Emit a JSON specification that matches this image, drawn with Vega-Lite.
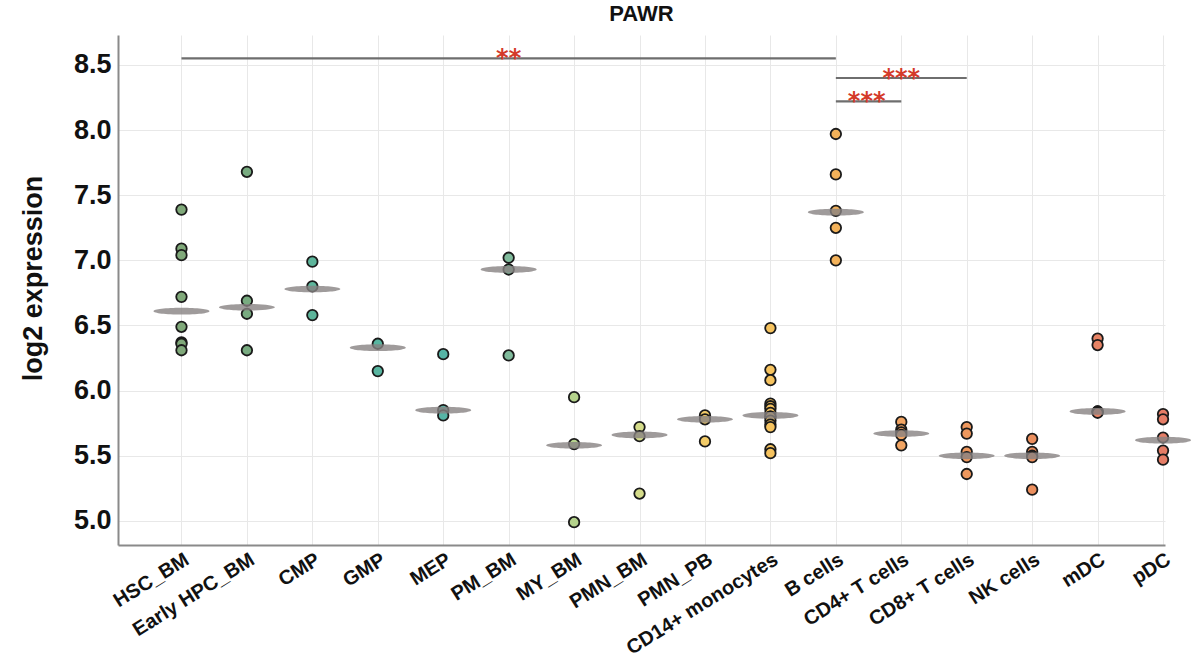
{
  "$schema": "https://vega.github.io/schema/vega-lite/v6.json",
  "width": 1047,
  "height": 510,
  "autosize": {"type": "none"},
  "padding": {"left": 118, "top": 35, "right": 35, "bottom": 118},
  "background": "white",
  "title": {"text": "PAWR", "fontSize": 22, "font": "Liberation Sans", "fontWeight": "bold", "color": "#111111", "offset": 9},
  "config": {
    "view": {"stroke": null},
    "axis": {
      "domainColor": "#8a8a8a",
      "domainWidth": 2,
      "gridColor": "#e8e8e8",
      "gridWidth": 1,
      "ticks": false,
      "labelFont": "Liberation Sans",
      "labelFontWeight": "bold",
      "labelColor": "#111111",
      "titleFont": "Liberation Sans",
      "titleFontWeight": "bold",
      "titleColor": "#111111"
    }
  },
  "datasets": {
    "expr": [
      {"cell": "HSC_BM", "value": 7.39}, {"cell": "HSC_BM", "value": 7.09}, {"cell": "HSC_BM", "value": 7.04}, {"cell": "HSC_BM", "value": 6.72},
      {"cell": "HSC_BM", "value": 6.49}, {"cell": "HSC_BM", "value": 6.37}, {"cell": "HSC_BM", "value": 6.36}, {"cell": "HSC_BM", "value": 6.31},
      {"cell": "Early HPC_BM", "value": 7.68}, {"cell": "Early HPC_BM", "value": 6.69}, {"cell": "Early HPC_BM", "value": 6.59}, {"cell": "Early HPC_BM", "value": 6.31},
      {"cell": "CMP", "value": 6.99}, {"cell": "CMP", "value": 6.80}, {"cell": "CMP", "value": 6.58},
      {"cell": "GMP", "value": 6.36}, {"cell": "GMP", "value": 6.15},
      {"cell": "MEP", "value": 6.28}, {"cell": "MEP", "value": 5.85}, {"cell": "MEP", "value": 5.81},
      {"cell": "PM_BM", "value": 7.02}, {"cell": "PM_BM", "value": 6.93}, {"cell": "PM_BM", "value": 6.27},
      {"cell": "MY_BM", "value": 5.95}, {"cell": "MY_BM", "value": 5.59}, {"cell": "MY_BM", "value": 4.99},
      {"cell": "PMN_BM", "value": 5.72}, {"cell": "PMN_BM", "value": 5.65}, {"cell": "PMN_BM", "value": 5.21},
      {"cell": "PMN_PB", "value": 5.81}, {"cell": "PMN_PB", "value": 5.78}, {"cell": "PMN_PB", "value": 5.61},
      {"cell": "CD14+ monocytes", "value": 6.48}, {"cell": "CD14+ monocytes", "value": 6.16}, {"cell": "CD14+ monocytes", "value": 6.08},
      {"cell": "CD14+ monocytes", "value": 5.90}, {"cell": "CD14+ monocytes", "value": 5.88}, {"cell": "CD14+ monocytes", "value": 5.86},
      {"cell": "CD14+ monocytes", "value": 5.83}, {"cell": "CD14+ monocytes", "value": 5.80}, {"cell": "CD14+ monocytes", "value": 5.80},
      {"cell": "CD14+ monocytes", "value": 5.77}, {"cell": "CD14+ monocytes", "value": 5.74}, {"cell": "CD14+ monocytes", "value": 5.72},
      {"cell": "CD14+ monocytes", "value": 5.55}, {"cell": "CD14+ monocytes", "value": 5.52},
      {"cell": "B cells", "value": 7.97}, {"cell": "B cells", "value": 7.66}, {"cell": "B cells", "value": 7.38}, {"cell": "B cells", "value": 7.25}, {"cell": "B cells", "value": 7.00},
      {"cell": "CD4+ T cells", "value": 5.76}, {"cell": "CD4+ T cells", "value": 5.70}, {"cell": "CD4+ T cells", "value": 5.68}, {"cell": "CD4+ T cells", "value": 5.66}, {"cell": "CD4+ T cells", "value": 5.58},
      {"cell": "CD8+ T cells", "value": 5.72}, {"cell": "CD8+ T cells", "value": 5.67}, {"cell": "CD8+ T cells", "value": 5.53}, {"cell": "CD8+ T cells", "value": 5.49}, {"cell": "CD8+ T cells", "value": 5.36},
      {"cell": "NK cells", "value": 5.63}, {"cell": "NK cells", "value": 5.53}, {"cell": "NK cells", "value": 5.50}, {"cell": "NK cells", "value": 5.49}, {"cell": "NK cells", "value": 5.24},
      {"cell": "mDC", "value": 6.40}, {"cell": "mDC", "value": 6.35}, {"cell": "mDC", "value": 5.84}, {"cell": "mDC", "value": 5.84}, {"cell": "mDC", "value": 5.83},
      {"cell": "pDC", "value": 5.82}, {"cell": "pDC", "value": 5.78}, {"cell": "pDC", "value": 5.64}, {"cell": "pDC", "value": 5.54}, {"cell": "pDC", "value": 5.47}
    ],
    "centers": [
      {"cell": "HSC_BM", "center": 6.61}, {"cell": "Early HPC_BM", "center": 6.64}, {"cell": "CMP", "center": 6.78}, {"cell": "GMP", "center": 6.33},
      {"cell": "MEP", "center": 5.85}, {"cell": "PM_BM", "center": 6.93}, {"cell": "MY_BM", "center": 5.58}, {"cell": "PMN_BM", "center": 5.66},
      {"cell": "PMN_PB", "center": 5.78}, {"cell": "CD14+ monocytes", "center": 5.81}, {"cell": "B cells", "center": 7.37}, {"cell": "CD4+ T cells", "center": 5.67},
      {"cell": "CD8+ T cells", "center": 5.50}, {"cell": "NK cells", "center": 5.50}, {"cell": "mDC", "center": 5.84}, {"cell": "pDC", "center": 5.62}
    ],
    "sig": [
      {"from": "HSC_BM", "to": "B cells", "level": 8.55, "stars": "**", "at": "PM_BM", "pos": "center"},
      {"from": "B cells", "to": "CD8+ T cells", "level": 8.40, "stars": "***", "at": "CD4+ T cells", "pos": "center"},
      {"from": "B cells", "to": "CD4+ T cells", "level": 8.22, "stars": "***", "at": "B cells", "pos": "left"}
    ]
  },
  "encoding": {
    "x": {
      "field": "cell",
      "type": "nominal",
      "scale": {
        "type": "point",
        "padding": 0.5,
        "align": 0.97,
        "domain": ["HSC_BM", "Early HPC_BM", "CMP", "GMP", "MEP", "PM_BM", "MY_BM", "PMN_BM", "PMN_PB", "CD14+ monocytes", "B cells", "CD4+ T cells", "CD8+ T cells", "NK cells", "mDC", "pDC"]
      },
      "axis": {"title": null, "labelAngle": -32, "labelAlign": "right", "labelBaseline": "top", "labelFontSize": 20, "labelPadding": 4, "labelLimit": 400, "grid": true}
    }
  },
  "layer": [
    {
      "data": {"name": "expr"},
      "mark": {"type": "point", "filled": true, "size": 110, "stroke": "#1a1a1a", "strokeWidth": 1.8, "opacity": 1},
      "encoding": {
        "y": {
          "field": "value",
          "type": "quantitative",
          "scale": {"domain": [4.815, 8.73], "nice": false, "zero": false},
          "axis": {"title": "log2 expression", "titleFontSize": 27, "titlePadding": 26, "titleY": 243, "labelFontSize": 27, "labelPadding": 7, "values": [5.0, 5.5, 6.0, 6.5, 7.0, 7.5, 8.0, 8.5], "format": ".1f", "grid": true}
        },
        "fill": {
          "field": "cell",
          "type": "nominal",
          "legend": null,
          "scale": {
            "domain": ["HSC_BM", "Early HPC_BM", "CMP", "GMP", "MEP", "PM_BM", "MY_BM", "PMN_BM", "PMN_PB", "CD14+ monocytes", "B cells", "CD4+ T cells", "CD8+ T cells", "NK cells", "mDC", "pDC"],
            "range": ["#80a97a", "#78ab80", "#5db59b", "#58b5a0", "#56b5a6", "#80bb9c", "#b5d38c", "#d5dc8a", "#f3cc68", "#f6c35f", "#f3b25a", "#f2a563", "#ee985e", "#eb8f5e", "#e88466", "#e57d66"]
          }
        }
      }
    },
    {
      "data": {"name": "centers"},
      "mark": {"type": "point", "filled": true, "shape": "M-1,0 A1,0.12 0 1,0 1,0 A1,0.12 0 1,0 -1,0 Z", "size": 3136, "color": "#878282", "opacity": 0.8, "strokeWidth": 0},
      "encoding": {
        "y": {"field": "center", "type": "quantitative"}
      }
    },
    {
      "data": {"name": "sig"},
      "mark": {"type": "rule", "color": "#6e6e6e", "strokeWidth": 2.2},
      "encoding": {
        "x": {"field": "from", "type": "nominal"},
        "x2": {"field": "to"},
        "y": {"field": "level", "type": "quantitative"}
      }
    },
    {
      "data": {"name": "sig"},
      "transform": [{"filter": "datum.pos == 'center'"}],
      "mark": {"type": "text", "color": "#d43a2a", "fontSize": 24, "font": "DejaVu Sans", "fontWeight": "bold", "align": "center", "baseline": "alphabetic", "dy": 8, "dx": 0},
      "encoding": {
        "x": {"field": "at", "type": "nominal"},
        "y": {"field": "level", "type": "quantitative"},
        "text": {"field": "stars"}
      }
    },
    {
      "data": {"name": "sig"},
      "transform": [{"filter": "datum.pos == 'left'"}],
      "mark": {"type": "text", "color": "#d43a2a", "fontSize": 24, "font": "DejaVu Sans", "fontWeight": "bold", "align": "left", "baseline": "alphabetic", "dy": 8, "dx": 12},
      "encoding": {
        "x": {"field": "at", "type": "nominal"},
        "y": {"field": "level", "type": "quantitative"},
        "text": {"field": "stars"}
      }
    }
  ]
}
